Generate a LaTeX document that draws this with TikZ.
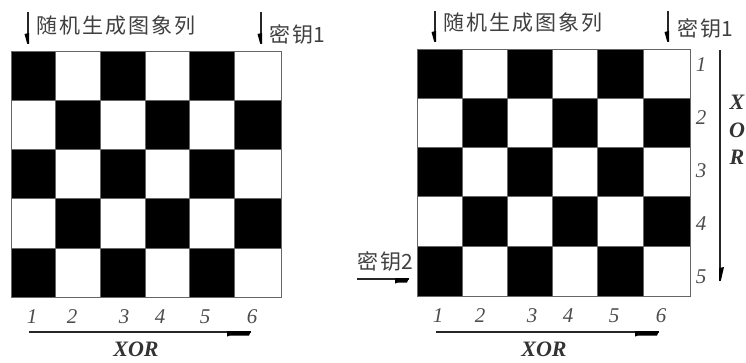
\documentclass[tikz,border=0pt]{standalone}
\usepackage{fontspec}
\setmainfont{Liberation Serif}
\newfontfamily\cjkf[LetterSpace=10]{Noto Sans CJK SC}
\definecolor{inkgray}{gray}{0.25}
\tikzset{
  x=1pt,y=-1pt,
  cell/.style={draw=black!60,line width=1pt},
  keylabel/.style={font=\cjkf\fontsize{21}{23}\selectfont,text=inkgray,inner sep=0pt,anchor=west},
  num/.style={font=\itshape\fontsize{21}{22}\selectfont,text=black!70,inner sep=0pt},
  xorlabel/.style={font=\itshape\bfseries\fontsize{22}{24}\selectfont,text=black!80,inner sep=0pt},
  shaft/.style={line width=2pt,black!85},
  barb/.style={fill=black},
}
\newcommand{\board}[2]{%
  \foreach \xa/\xb/\c in {#1}{
    \foreach \ya/\yb/\r in {#2}{
      \pgfmathparse{int(mod(\c+\r,2))}
      \ifnum\pgfmathresult=0
        \fill[black] (\xa,\ya) rectangle (\xb,\yb);
      \fi
      \draw[cell] (\xa,\ya) rectangle (\xb,\yb);
    }
  }
}
% barbs at the end of a shaft, given the name of its end coordinate
\newcommand{\barbdownleft}[1]{\fill[barb,shift={(#1)}] (1,0) -- (1,-11) -- (-3.5,-10) -- (-1,-1) -- cycle;}
\newcommand{\barbdownright}[1]{\fill[barb,shift={(#1)}] (-1,0) -- (-1,-13) -- (4,-14) -- (1,-1) -- cycle;}
\newcommand{\barbeast}[2]{\fill[barb,shift={(#1)}] (0,-1) -- (-#2,-1) -- (-#2,4.5) -- (-#2+3,3.5) -- (-2,3.5) -- cycle;}
\begin{document}
\begin{tikzpicture}
\useasboundingbox (0,0) rectangle (746,363);
\board{11/55/0,55/100/1,100/145/2,145/189/3,189/234/4,234/281/5}{52/101/0,101/150/1,150/199/2,199/248/3,248/297/4}
\board{417/462/0,462/507/1,507/552/2,552/597/3,597/643/4,643/690/5}{50/99/0,99/148/1,148/197/2,197/246/3,246/296/4}

% left panel
\coordinate (la1) at (28,12); \coordinate (la2) at (28,44);
\coordinate (lb1) at (261,12); \coordinate (lb2) at (261,44);
\draw[shaft] (la1) -- (la2); \barbdownleft{la2}
\draw[shaft] (lb1) -- (lb2); \barbdownleft{lb2}
\node[keylabel] (lt1) at (36,26) {随机生成图象列};
\node[keylabel] (lt2) at (269,34) {密钥\addfontfeature{LetterSpace=0}1};
\foreach \n/\x in {1/32,2/72,3/124,4/160,5/205,6/252}
  \node[num] (ln\n) at (\x,317) {\n};
\coordinate (lx1) at (29,332); \coordinate (lx2) at (251,332);
\draw[shaft] (lx1) -- (lx2); \barbeast{lx2}{24}
\node[xorlabel] (lxor) at (136,349) {XOR};

% right panel
\coordinate (ra1) at (435,11); \coordinate (ra2) at (435,42);
\coordinate (rb1) at (668,11); \coordinate (rb2) at (668,42);
\draw[shaft] (ra1) -- (ra2); \barbdownleft{ra2}
\draw[shaft] (rb1) -- (rb2); \barbdownleft{rb2}
\node[keylabel] (rt1) at (443,23) {随机生成图象列};
\node[keylabel] (rt2) at (677,28) {密钥\addfontfeature{LetterSpace=0}1};
\foreach \n/\y in {1/65,2/118,3/171,4/224,5/277}
  \node[num] (rv\n) at (701,\y) {\n};
\foreach \n/\x in {1/438,2/480,3/532,4/568,5/614,6/661}
  \node[num] (rn\n) at (\x,316) {\n};
\coordinate (rx1) at (436,332); \coordinate (rx2) at (659,332);
\draw[shaft] (rx1) -- (rx2); \barbeast{rx2}{24}
\node[xorlabel] (rxor) at (544,349) {XOR};
\coordinate (ry1) at (720,50); \coordinate (ry2) at (720,281);
\draw[shaft] (ry1) -- (ry2); \barbdownright{ry2}
\node[xorlabel] (rX) at (737,102) {X};
\node[xorlabel] (rO) at (737,130) {O};
\node[xorlabel] (rR) at (737,157) {R};
\node[keylabel] (rk2) at (357,261) {密钥\addfontfeature{LetterSpace=0}2};
\coordinate (rk1) at (357,279); \coordinate (rk3) at (409,279);
\draw[shaft] (rk1) -- (rk3); \barbeast{rk3}{14}
\end{tikzpicture}
\end{document}
